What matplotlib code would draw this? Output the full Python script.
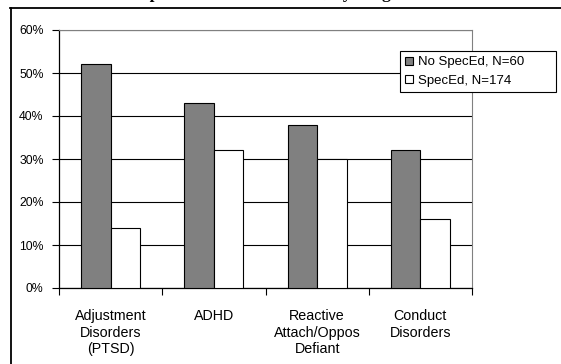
import matplotlib
matplotlib.use("Agg")
import matplotlib.pyplot as plt
import numpy as np
from matplotlib.lines import Line2D
from matplotlib.ticker import FixedLocator, FuncFormatter

categories = ["Adjustment\nDisorders\n(PTSD)", "ADHD", "Reactive\nAttach/Oppos\nDefiant", "Conduct\nDisorders"]
no_speced = [52, 43, 38, 32]
speced = [14, 32, 30, 16]
series_labels = ["No SpecEd, N=60", "SpecEd, N=174"]
yticks = [0, 10, 20, 30, 40, 50, 60]
title = "Special Education Status, by Diagnosis"

W, H = 561, 364
fig = plt.figure(figsize=(W / 100, H / 100), dpi=100)
fig.patch.set_facecolor("white")

ax = fig.add_axes([59 / W, (H - 288) / H, (472 - 59) / W, (288 - 30) / H])

x = np.arange(len(categories))
bw = 1 / 3.5
ax.bar(x - bw / 2, no_speced, width=bw, color="#808080", edgecolor="black", linewidth=0.8, zorder=3, label=series_labels[0])
ax.bar(x + bw / 2, speced, width=bw, color="white", edgecolor="black", linewidth=0.8, zorder=3, label=series_labels[1])

ax.set_xlim(-0.5, len(categories) - 0.5)
ax.set_ylim(0, 60)
ax.set_yticks(yticks)
ax.yaxis.set_major_formatter(FuncFormatter(lambda v, p: f"{int(v)}%"))
ax.set_xticks(x)
ax.set_xticklabels(categories, fontsize=10.3, family="Liberation Sans", linespacing=1.25)
ax.xaxis.set_minor_locator(FixedLocator(np.arange(len(categories) + 1) - 0.5))
ax.tick_params(axis="x", which="major", length=0, pad=15)
ax.tick_params(axis="x", which="minor", length=5, width=0.8, direction="out")
ax.tick_params(axis="y", length=5, width=0.8, direction="out", pad=6, labelsize=8.8)
for lab in ax.get_yticklabels():
    lab.set_family("Liberation Sans")

ax.grid(axis="y", color="black", linewidth=0.8, zorder=0)
ax.spines["left"].set_linewidth(0.9)
ax.spines["bottom"].set_linewidth(0.9)
ax.spines["top"].set_color("#808080")
ax.spines["right"].set_color("#808080")
ax.spines["top"].set_linewidth(0.8)
ax.spines["right"].set_linewidth(0.8)

leg = fig.legend(loc="upper left", bbox_to_anchor=(400 / W, 1 - 92 / H, 156 / W, 41 / H), mode="expand",
                 frameon=True, fancybox=False, edgecolor="black", framealpha=1,
                 prop={"family": "Liberation Sans", "size": 9.5},
                 handlelength=0.55, handleheight=0.55, handletextpad=0.4, borderpad=0.4, labelspacing=0.5,
                 borderaxespad=0)
leg.get_frame().set_linewidth(0.8)

# outer frame lines of the screenshot
fig.add_artist(Line2D([10.5 / W, 10.5 / W], [0, 1 - 8 / H], color="black", linewidth=1.3, transform=fig.transFigure))
fig.add_artist(Line2D([10 / W, 1], [1 - 8 / H, 1 - 8 / H], color="black", linewidth=1.3, transform=fig.transFigure))

fig.text(0.505, 1 + 2.5 / H, title, ha="center", va="baseline", fontsize=12.5, fontweight="bold",
         family="Liberation Serif")

fig.savefig("out.png", dpi=100)
